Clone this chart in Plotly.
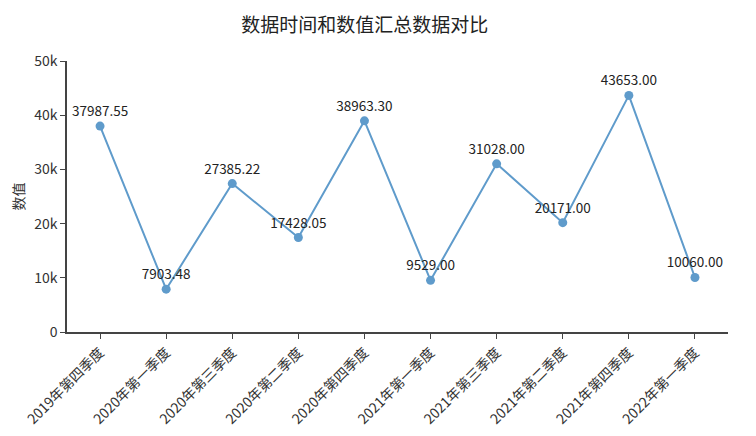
import plotly.graph_objects as go

categories = ["2019年第四季度", "2020年第一季度", "2020年第三季度", "2020年第二季度",
              "2020年第四季度", "2021年第一季度", "2021年第三季度", "2021年第二季度",
              "2021年第四季度", "2022年第一季度"]
values = [37987.55, 7903.48, 27385.22, 17428.05, 38963.30, 9529.00, 31028.00, 20171.00, 43653.00, 10060.00]
y_tickvals = [0, 10000, 20000, 30000, 40000, 50000]
y_ticktext = ["0", "10k", "20k", "30k", "40k", "50k"]

FONT = "Microsoft YaHei, Noto Sans CJK SC, sans-serif"
color = "#5f9bcb"

fig = go.Figure(go.Scatter(
    x=categories, y=values, mode="lines+markers+text",
    line=dict(color=color, width=2),
    marker=dict(color=color, size=9),
    text=[f"{v:.2f}" for v in values],
    textposition="top center",
    textfont=dict(size=13.5, color="#222", family=FONT),
    cliponaxis=False,
    showlegend=False,
))

fig.update_layout(
    width=748, height=428,
    margin=dict(l=59, r=28, t=53, b=104),
    plot_bgcolor="white", paper_bgcolor="white",
    font=dict(family=FONT, color="#333"),
    title=dict(text="数据时间和数值汇总数据对比", x=0.477, xanchor="center", y=0.96, yanchor="middle",
               font=dict(size=19, color="#222", family=FONT), automargin=False),
)
fig.update_xaxes(
    type="category", range=[-0.5, 9.5], tickangle=-45, automargin=False,
    showline=True, linecolor="#444", linewidth=1.5,
    ticks="outside", ticklen=5, tickcolor="#444",
    showgrid=False, tickfont=dict(size=14, color="#333", family=FONT),
)
fig.update_yaxes(
    range=[0, 50000], tickvals=y_tickvals, ticktext=y_ticktext, automargin=False,
    showline=True, linecolor="#444", linewidth=1.5,
    ticks="outside", ticklen=5, tickcolor="#444",
    showgrid=False, zeroline=False,
    tickfont=dict(size=14, color="#333", family=FONT),
    title=dict(text="数值", font=dict(size=14, color="#333", family=FONT), standoff=24),
)

fig.write_html("out.html")
